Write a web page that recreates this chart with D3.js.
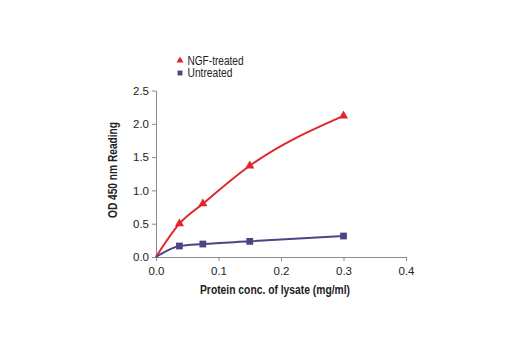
<!DOCTYPE html>
<html><head><meta charset="utf-8">
<script src="https://cdn.jsdelivr.net/npm/d3@7"></script>
<style>
body{margin:0;background:#fff;}
svg{font-family:"Liberation Sans Narrow","Liberation Sans",Arial,sans-serif;}
</style></head>
<body>
<svg id="c" width="520" height="350"></svg>
<script>
const conc = [0.0375, 0.075, 0.15, 0.3];
const ngfValues = [0.5, 0.8, 1.37, 2.12];
const untreatedValues = [0.165, 0.195, 0.235, 0.315];
const seriesNames = ["NGF-treated", "Untreated"];
const seriesColors = ["#e3242b", "#4b4683"];
const xTicks = [0.0, 0.1, 0.2, 0.3, 0.4];
const yTicks = [0.0, 0.5, 1.0, 1.5, 2.0, 2.5];

const svg = d3.select("#c");
const x = d3.scaleLinear().domain([0, 0.4]).range([156, 406]);
const y = d3.scaleLinear().domain([0, 2.5]).range([257, 90.5]);
const axisColor = "#8c8c8c";

const xa = svg.append("g").attr("transform", "translate(0,257)")
  .call(d3.axisBottom(x).tickValues(xTicks).tickFormat(d3.format(".1f")).tickSize(4).tickSizeOuter(0));
const ya = svg.append("g").attr("transform", "translate(156,0)")
  .call(d3.axisLeft(y).tickValues(yTicks).tickFormat(d3.format(".1f")).tickSize(4).tickSizeOuter(0));
[xa, ya].forEach(a => {
  a.select(".domain").attr("stroke", axisColor);
  a.selectAll(".tick line").attr("stroke", axisColor);
  a.selectAll(".tick text").attr("fill", "#222").attr("font-size", 11.5).attr("font-family", "inherit");
});
xa.selectAll(".tick text").attr("dy", "0.95em");

svg.append("text").attr("x", 275).attr("y", 294).attr("text-anchor", "middle")
  .attr("font-weight", "bold").attr("font-size", 12).attr("fill", "#222")
  .attr("textLength", 150).attr("lengthAdjust", "spacingAndGlyphs")
  .text("Protein conc. of lysate (mg/ml)");
svg.append("text").attr("transform", "translate(117,170) rotate(-90)").attr("text-anchor", "middle")
  .attr("font-weight", "bold").attr("font-size", 12).attr("fill", "#222")
  .attr("textLength", 96).attr("lengthAdjust", "spacingAndGlyphs")
  .text("OD 450 nm Reading");

const series = [ngfValues, untreatedValues];
const line = d3.line().x(d => x(d[0])).y(d => y(d[1])).curve(d3.curveMonotoneX);
series.forEach((vals, i) => {
  const pts = [[0, 0]].concat(conc.map((c, j) => [c, vals[j]]));
  svg.append("path").datum(pts).attr("d", line).attr("fill", "none")
    .attr("stroke", seriesColors[i]).attr("stroke-width", 2);
});
svg.append("g").selectAll("path").data(conc.map((c, j) => [c, untreatedValues[j]])).join("path")
  .attr("d", d3.symbol(d3.symbolSquare, 46)())
  .attr("transform", d => `translate(${x(d[0])},${y(d[1])})`).attr("fill", seriesColors[1]);
svg.append("g").selectAll("path").data(conc.map((c, j) => [c, ngfValues[j]])).join("path")
  .attr("d", d3.symbol(d3.symbolTriangle, 36)())
  .attr("transform", d => `translate(${x(d[0])},${y(d[1])})`).attr("fill", seriesColors[0]);

const lg = svg.append("g");
const legendWidths = [56, 45];
seriesNames.forEach((n, i) => {
  const yy = 60.5 + i * 12.5;
  lg.append("path").attr("d", d3.symbol(i === 0 ? d3.symbolTriangle : d3.symbolSquare, i === 0 ? 22 : 24)())
    .attr("transform", `translate(180,${yy})`).attr("fill", seriesColors[i]);
  lg.append("text").attr("x", 187.5).attr("y", yy).attr("dy", "0.36em")
    .attr("font-size", 12).attr("fill", "#222")
    .attr("textLength", legendWidths[i]).attr("lengthAdjust", "spacingAndGlyphs").text(n);
});
</script>
</body></html>
